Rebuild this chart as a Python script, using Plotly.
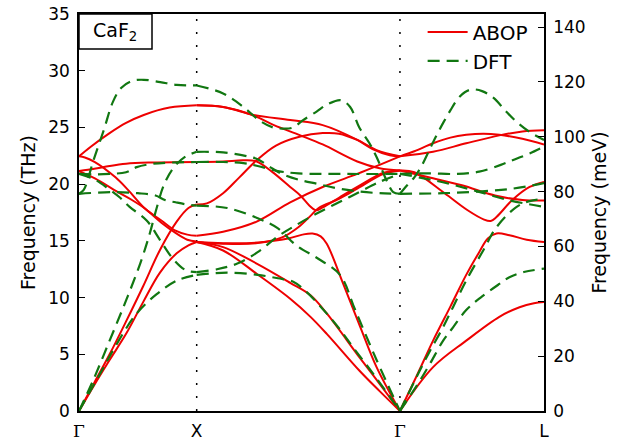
import plotly.graph_objects as go

# ---------------- path / axes ----------------
kpoint_labels = ["Γ", "X", "Γ", "L"]
kpoint_pos = [0.0, 1.0, 2.727, 3.951]          # Γ-X, X-Γ(Σ), Γ-L lengths
THZ_TO_MEV = 4.1357
thz_ticks = [0, 5, 10, 15, 20, 25, 30, 35]
mev_ticks = [0, 20, 40, 60, 80, 100, 120, 140]

# ---------------- ABOP bands (fraction along segment, THz) ----------------
# segment Γ-X
abop_gx_1 = [(0, 22.45), (.1, 23.3), (.26, 24.5), (.4, 25.4), (.55, 26.1), (.77, 26.75), (1, 26.95)]
abop_gx_2 = [(0, 21.15), (.13, 21.35), (.26, 21.6), (.4, 21.8), (.6, 21.9), (1, 21.95)]
abop_gx_3 = [(0, 22.45), (.05, 22.35), (.135, 21.95), (.31, 20.6), (.42, 19.45), (.56, 17.85), (.70, 16.8), (.82, 15.9), (.92, 15.55), (1, 15.45)]
abop_gx_4 = [(0, 21.15), (.135, 20.5), (.33, 19.3), (.45, 18.6), (.56, 17.85), (.7, 16.6), (.82, 15.7), (.92, 15.1), (1, 14.95)]
abop_gx_5 = [(0, 0), (.13, 2.5), (.26, 5.0), (.40, 7.9), (.545, 11.0), (.688, 14.2), (.83, 16.7), (.93, 17.9), (1, 18.2)]
abop_gx_6 = [(0, 0), (.13, 2.3), (.26, 4.5), (.40, 6.8), (.545, 9.6), (.688, 12.2), (.83, 13.9), (.93, 14.6), (1, 14.9)]
# segment X-Γ
abop_xg_1 = [(0, 26.95), (.13, 26.8), (.28, 26.1), (.46, 25.65), (.62, 25.2), (.79, 23.9), (.865, 23.1), (.95, 22.55), (1, 22.45)]
abop_xg_2 = [(0, 26.95), (.13, 26.8), (.28, 26.05), (.38, 25.2), (.51, 24.3), (.62, 23.5), (.79, 22.0), (.9, 21.4), (1, 21.2)]
abop_xg_3 = [(0, 18.2), (.05, 18.3), (.13, 19.2), (.21, 20.6), (.295, 22.1), (.39, 23.4), (.51, 24.2), (.62, 24.5), (.7, 24.45), (.79, 23.9), (.885, 23.0), (1, 22.45)]
abop_xg_4 = [(0, 21.95), (.13, 22.0), (.23, 22.1), (.295, 22.0), (.37, 21.1), (.46, 19.75), (.51, 19.0), (.555, 18.1), (.585, 17.7), (.62, 17.95), (.7, 18.8), (.79, 19.75), (.92, 21.0), (1, 21.2)]
abop_xg_5 = [(0, 15.45), (.13, 15.8), (.295, 16.7), (.46, 18.4), (.62, 19.75), (.79, 20.9), (.9, 21.7), (1, 22.45)]
abop_xg_6 = [(0, 14.9), (.13, 14.75), (.3, 14.8), (.42, 15.3), (.5, 16.2), (.56, 17.2), (.6, 17.9), (.7, 18.7), (.79, 19.6), (.92, 20.9), (1, 21.2)]
abop_xg_7 = [(0, 14.9), (.13, 14.8), (.3, 14.85), (.45, 15.2), (.52, 15.55), (.57, 15.65), (.61, 15.4), (.64, 14.75), (.72, 11.25), (.805, 7.4), (.885, 3.87), (1, 0)]
abop_xg_8 = [(0, 14.9), (.13, 14.45), (.295, 13.0), (.46, 11.3), (.56, 10.2), (.64, 8.6), (.8, 4.75), (.9, 2.4), (1, 0)]
abop_xg_9 = [(0, 14.9), (.13, 14.15), (.295, 12.1), (.46, 9.9), (.56, 8.3), (.64, 6.8), (.8, 3.57), (.9, 1.75), (1, 0)]
# segment Γ-L
abop_gl_1 = [(0, 0), (.23, 3.87), (.46, 6.2), (.69, 8.3), (.83, 9.15), (.93, 9.5), (1, 9.6)]
abop_gl_2 = [(0, 0), (.12, 3.2), (.23, 6.2), (.35, 9.2), (.46, 12.0), (.55, 14.0), (.61, 15.2), (.67, 15.65), (.76, 15.5), (.88, 15.1), (1, 14.9)]
abop_gl_3 = [(0, 21.2), (.10, 21.05), (.31, 19.2), (.47, 17.7), (.58, 16.9), (.63, 16.75), (.67, 17.1), (.78, 18.6), (.9, 19.75), (1, 20.2)]
abop_gl_4 = [(0, 21.2), (.2, 20.6), (.43, 19.9), (.66, 19.0), (.85, 18.6), (1, 18.55)]
abop_gl_5 = [(0, 22.45), (.1, 22.9), (.23, 23.6), (.35, 24.1), (.46, 24.35), (.58, 24.45), (.69, 24.35), (.85, 24.0), (1, 23.5)]
abop_gl_6 = [(0, 22.45), (.23, 22.85), (.46, 23.6), (.69, 24.3), (.85, 24.65), (1, 24.75)]

# ---------------- DFT bands ----------------
dft_gx_1 = [(0, 19.15), (.04, 19.5), (.08, 20.6), (.12, 22.0), (.21, 24.75), (.29, 27.3), (.36, 28.5), (.45, 29.1), (.55, 29.2), (.69, 29.0), (.83, 28.75), (1, 28.7)]
dft_gx_2 = [(0, 20.9), (.13, 20.85), (.26, 20.9), (.40, 21.05), (.49, 21.5), (.63, 21.8), (.77, 21.9), (1, 21.95)]
dft_gx_3 = [(0, 0), (.12, 2.7), (.26, 6.2), (.40, 9.75), (.52, 13.0), (.6, 15.6), (.66, 17.9), (.72, 19.9), (.8, 21.4), (.9, 22.4), (1, 22.85)]
dft_gx_4 = [(0, 19.15), (.3, 19.3), (.5, 19.2), (.65, 19.0), (.73, 18.6), (.82, 18.4), (.92, 18.2), (1, 18.1)]
dft_gx_5 = [(0, 20.9), (.135, 20.4), (.25, 19.6), (.35, 18.8), (.43, 18.0), (.575, 16.8), (.69, 15.05), (.8, 13.4), (.91, 12.4), (1, 12.25)]
dft_gx_6 = [(0, 0), (.18, 3.3), (.32, 5.9), (.49, 8.6), (.66, 10.3), (.83, 11.5), (1, 12.0)]
dft_xg_1 = [(0, 28.7), (.13, 28.0), (.23, 26.8), (.31, 25.6), (.375, 25.0), (.43, 24.9), (.475, 25.0), (.52, 25.6), (.59, 26.4), (.64, 27.0), (.71, 27.4), (.755, 26.8), (.8, 25.0), (.85, 23.6), (.885, 22.4), (.935, 20.3), (.967, 19.3), (1, 19.15)]
dft_xg_2 = [(0, 22.85), (.13, 22.8), (.25, 22.45), (.3, 22.2), (.37, 21.4), (.42, 20.9), (.5, 20.4), (.6, 20.0), (.7, 19.6), (.8, 19.35), (.9, 19.2), (1, 19.15)]
dft_xg_3 = [(0, 21.95), (.13, 21.95), (.23, 21.85), (.3, 21.6), (.4, 21.15), (.5, 20.95), (.7, 20.9), (1, 20.9)]
dft_xg_4 = [(0, 18.1), (.15, 17.9), (.3, 17.0), (.4, 16.1), (.49, 14.6), (.6, 13.4), (.705, 12.0), (.78, 8.9), (.885, 4.5), (1, 0)]
dft_xg_5 = [(0, 12.25), (.1, 12.5), (.2, 13.0), (.3, 14.0), (.4, 15.4), (.5, 16.5), (.6, 17.5), (.7, 18.4), (.8, 19.3), (.9, 20.2), (1, 20.9)]
dft_xg_6 = [(0, 12.0), (.15, 12.2), (.3, 12.0), (.4, 11.7), (.475, 11.4), (.54, 10.5), (.62, 9.0), (.7, 7.3), (.77, 5.6), (.88, 3.0), (1, 0)]
dft_gl_1 = [(0, 19.15), (.05, 19.9), (.1, 20.6), (.15, 21.6), (.2, 22.9), (.25, 24.2), (.3, 25.4), (.35, 26.5), (.4, 27.5), (.45, 28.1), (.5, 28.35), (.57, 28.2), (.65, 27.6), (.73, 26.5), (.8, 25.6), (.9, 24.6), (1, 23.9)]
dft_gl_2 = [(0, 20.9), (.2, 20.95), (.4, 20.9), (.55, 21.1), (.7, 21.7), (.8, 22.2), (.9, 22.7), (1, 23.3)]
dft_gl_3 = [(0, 20.9), (.25, 20.3), (.5, 19.5), (.75, 18.6), (1, 18.0)]
dft_gl_4 = [(0, 19.15), (.3, 19.2), (.55, 19.35), (.78, 19.6), (1, 20.1)]
dft_gl_5 = [(0, 0), (.1, 2.6), (.2, 5.1), (.3, 7.4), (.37, 9.2), (.46, 11.5), (.58, 14.2), (.67, 16.2), (.81, 18.0), (.9, 18.5), (1, 18.7)]
dft_gl_6 = [(0, 0), (.14, 2.7), (.21, 4.2), (.3, 6.2), (.37, 7.4), (.46, 8.9), (.56, 10.0), (.69, 11.2), (.76, 11.8), (.86, 12.25), (1, 12.55)]

abop_segments = [
    (0, [abop_gx_1, abop_gx_2, abop_gx_3, abop_gx_4, abop_gx_5, abop_gx_6]),
    (1, [abop_xg_1, abop_xg_2, abop_xg_3, abop_xg_4, abop_xg_5, abop_xg_6, abop_xg_7, abop_xg_8, abop_xg_9]),
    (2, [abop_gl_1, abop_gl_2, abop_gl_3, abop_gl_4, abop_gl_5, abop_gl_6]),
]
dft_segments = [
    (0, [dft_gx_1, dft_gx_2, dft_gx_3, dft_gx_4, dft_gx_5, dft_gx_6]),
    (1, [dft_xg_1, dft_xg_2, dft_xg_3, dft_xg_4, dft_xg_5, dft_xg_6]),
    (2, [dft_gl_1, dft_gl_2, dft_gl_3, dft_gl_4, dft_gl_5, dft_gl_6]),
]

FONT = "DejaVu Sans, sans-serif"
fig = go.Figure()


def add_bands(segments, name, color, dash, width):
    first = True
    for seg, bands in segments:
        x0, x1 = kpoint_pos[seg], kpoint_pos[seg + 1]
        for band in bands:
            xs = [x0 + t * (x1 - x0) for t, _ in band]
            ys = [f for _, f in band]
            fig.add_trace(go.Scatter(
                x=xs, y=ys, mode="lines", name=name, legendgroup=name,
                showlegend=first,
                line=dict(color=color, width=width, dash=dash, shape="spline", smoothing=1.0),
                hoverinfo="skip"))
            first = False


add_bands(abop_segments, "ABOP", "#ee0000", "solid", 2)
add_bands(dft_segments, "DFT", "#117711", "12px,7px", 2.2)

# dummy trace to activate right axis
fig.add_trace(go.Scatter(x=[kpoint_pos[0]], y=[0], yaxis="y2", mode="markers",
                         marker=dict(opacity=0), showlegend=False, hoverinfo="skip"))

# dotted lines at inner high-symmetry points
for xp in kpoint_pos[1:3]:
    fig.add_shape(type="line", x0=xp, x1=xp, y0=0, y1=35, xref="x", yref="y",
                  line=dict(color="black", width=1.5, dash="2px,11px"), layer="below")

# CaF2 label box
fig.add_shape(type="rect", xref="paper", yref="paper", x0=0, x1=0.157, y0=0.912, y1=1.0,
              line=dict(color="black", width=1.5), fillcolor="white")
fig.add_annotation(xref="paper", yref="paper", x=0.078, y=0.956, text="CaF<sub>2</sub>",
                   showarrow=False, font=dict(family=FONT, size=19, color="black"),
                   xanchor="center", yanchor="middle")

tick_text = [("<span style='font-family:DejaVu Serif'>Γ</span>" if t == "Γ" else t)
             for t in kpoint_labels]

fig.update_layout(
    width=625, height=443,
    margin=dict(l=79, r=81, t=14, b=32, autoexpand=False),
    paper_bgcolor="white", plot_bgcolor="white",
    font=dict(family=FONT, size=17, color="black"),
    xaxis=dict(range=[kpoint_pos[0], kpoint_pos[-1]], tickvals=kpoint_pos, ticktext=tick_text,
               showgrid=False, zeroline=False, showline=True, linecolor="black", linewidth=2,
               mirror=True, ticks="", ticklabelstandoff=4, automargin=False),
    yaxis=dict(range=[0, 35], tickvals=thz_ticks, showgrid=False, zeroline=False,
               showline=True, linecolor="black", linewidth=1.5, ticks="inside", ticklen=6,
               tickcolor="black", ticklabelstandoff=4, automargin=False, ticklabeloverflow="allow",
               title=dict(text="Frequency (THz)", font=dict(size=19), standoff=8)),
    yaxis2=dict(range=[0, 35 * THZ_TO_MEV], tickvals=mev_ticks, overlaying="y", side="right",
                showgrid=False, zeroline=False, showline=True, linecolor="black", linewidth=1.5,
                ticks="inside", ticklen=6, tickcolor="black", ticklabelstandoff=4, automargin=False,
                ticklabeloverflow="allow",
                title=dict(text="Frequency (meV)", font=dict(size=19), standoff=8)),
    legend=dict(x=0.739, y=1.004, xanchor="left", yanchor="top", bgcolor="rgba(0,0,0,0)",
                font=dict(size=20), tracegroupgap=0, itemwidth=40),
)

# remove the default 8px page margin so the 625x443 figure fills the window exactly
fig.write_html("out.html", config={"displayModeBar": False},
               post_script="document.body.style.margin='0px';")
